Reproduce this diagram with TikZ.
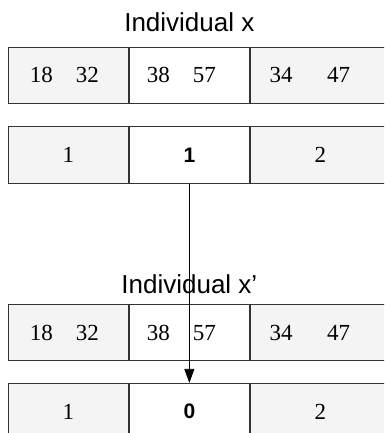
\documentclass[tikz,border=0pt]{standalone}
\usepackage{fontspec}
\setmainfont{Liberation Serif}
\setsansfont{Liberation Sans}
\usetikzlibrary{arrows.meta, positioning}
\definecolor{cellgray}{HTML}{F4F4F4}
\definecolor{linegray}{HTML}{333333}

\begin{document}
\begin{tikzpicture}[
  cell/.style={rectangle, minimum width=120pt, minimum height=56.5pt,
               inner sep=0pt, text centered, font=\fontsize{23}{27}\selectfont,
               draw=linegray, line width=0.9pt, fill=cellgray},
  midcell/.style={cell, fill=white},
  lastcell/.style={cell, minimum width=140pt},
  bit/.style={font=\fontsize{21}{25}\selectfont\sffamily\bfseries},
  title/.style={font=\fontsize{26}{30}\selectfont\sffamily},
  arr/.style={-{Triangle[length=14pt, width=10pt]}, black, line width=0.8pt},
  node distance=0pt,
]
  \useasboundingbox (0,0) rectangle (384pt,-433pt);
  \clip (0,0) rectangle (384pt,-433pt);

  % individual x
  \node[cell, anchor=north west] (a1) at (8pt,-46.7pt) {18\quad 32\kern0.35em};
  \node[midcell, right=of a1] (a2) {38\quad 57\kern0.7em};
  \node[lastcell, right=of a2] (a3) {34\hspace{1.5em}47\kern0.9em};

  \node[cell, below=22.3pt of a1] (b1) {1};
  \node[midcell, bit, right=of b1] (b2) {1};
  \node[lastcell, right=of b2] (b3) {2};

  % individual x'
  \node[cell, below=120pt of b1] (c1) {18\quad 32\kern0.35em};
  \node[midcell, right=of c1] (c2) {38\quad 57\kern0.7em};
  \node[lastcell, right=of c2] (c3) {34\hspace{1.5em}47\kern0.9em};

  \node[cell, below=21.7pt of c1] (d1) {1};
  \node[midcell, bit, right=of d1] (d2) {0};
  \node[lastcell, right=of d2] (d3) {2};

  \node[title, above=15pt of a2.north, anchor=base] (tx) {Individual x};
  \node[title, above=10pt of c2.north, anchor=base] (ty) {Individual x’};

  \draw[arr] (b2.south) -- (d2.north);
\end{tikzpicture}
\end{document}
